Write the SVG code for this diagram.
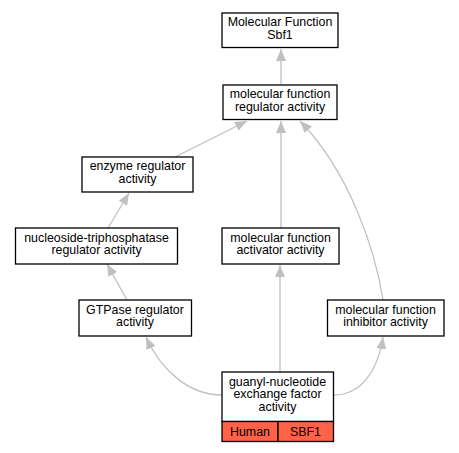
<svg xmlns="http://www.w3.org/2000/svg" width="459" height="453" viewBox="0 0 459 453">
<style>
.box{fill:#ffffff;stroke:#000000;stroke-width:1.3}
.org{fill:#ff6347;stroke:#000000;stroke-width:1.3}
.t{font-family:"Liberation Sans",Arial,sans-serif;font-size:12.4px;fill:#000000;text-anchor:middle}
.e{fill:none;stroke:#c0c0c0;stroke-width:1.3}
</style>
<defs>
<marker id="ah" markerUnits="userSpaceOnUse" markerWidth="12" markerHeight="10" refX="12" refY="5" orient="auto">
<path d="M0,0 L12,5 L0,10 z" fill="#c0c0c0"/>
</marker>
</defs>
<rect width="459" height="453" fill="#ffffff"/>
<g id="connectors">
<path class="e" marker-end="url(#ah)" d="M281,84 L281,49"/>
<path class="e" marker-end="url(#ah)" d="M175,157 L247,121"/>
<path class="e" marker-end="url(#ah)" d="M281,228 L281,121"/>
<path class="e" marker-end="url(#ah)" d="M383,300 C376,255 352,175 300,121"/>
<path class="e" marker-end="url(#ah)" d="M108,228 L129,193"/>
<path class="e" marker-end="url(#ah)" d="M127,300 L107,264"/>
<path class="e" marker-end="url(#ah)" d="M222,395 C190,395 162,372 146,337"/>
<path class="e" marker-end="url(#ah)" d="M280,372 L280,265"/>
<path class="e" marker-end="url(#ah)" d="M334,395 C360,395 378,372 383,337"/>
</g>
<g id="n1">
<rect class="box" x="222" y="13" width="116" height="34.5"/>
<text class="t" x="280" y="26">Molecular Function</text>
<text class="t" x="280" y="38.6">Sbf1</text>
</g>
<g id="n2">
<rect class="box" x="223" y="85" width="114" height="34.5"/>
<text class="t" x="280" y="98">molecular function</text>
<text class="t" x="280" y="110.6">regulator activity</text>
</g>
<g id="n3">
<rect class="box" x="82" y="157" width="111" height="35"/>
<text class="t" x="137.5" y="170.2">enzyme regulator</text>
<text class="t" x="137.5" y="182.8">activity</text>
</g>
<g id="n4">
<rect class="box" x="15.5" y="228" width="162" height="36"/>
<text class="t" x="96.5" y="241.7">nucleoside-triphosphatase</text>
<text class="t" x="96.5" y="254.3">regulator activity</text>
</g>
<g id="n5">
<rect class="box" x="79" y="300" width="112.5" height="36"/>
<text class="t" x="135" y="313.7">GTPase regulator</text>
<text class="t" x="135" y="326.3">activity</text>
</g>
<g id="n6">
<rect class="box" x="222" y="228" width="117" height="36"/>
<text class="t" x="280.5" y="241.7">molecular function</text>
<text class="t" x="280.5" y="254.3">activator activity</text>
</g>
<g id="n7">
<rect class="box" x="327.5" y="300" width="116.5" height="36"/>
<text class="t" x="385.5" y="313.7">molecular function</text>
<text class="t" x="385.5" y="326.3">inhibitor activity</text>
</g>
<g id="n8">
<rect class="box" x="222" y="372" width="111.5" height="49.5"/>
<rect class="org" x="222" y="421.5" width="56" height="20"/>
<rect class="org" x="278" y="421.5" width="55.5" height="20"/>
<text class="t" x="277.5" y="385.7">guanyl-nucleotide</text>
<text class="t" x="277.5" y="398.3">exchange factor</text>
<text class="t" x="277.5" y="410.9">activity</text>
<text class="t" x="250" y="435.5">Human</text>
<text class="t" x="305.5" y="435.5">SBF1</text>
</g>
</svg>
